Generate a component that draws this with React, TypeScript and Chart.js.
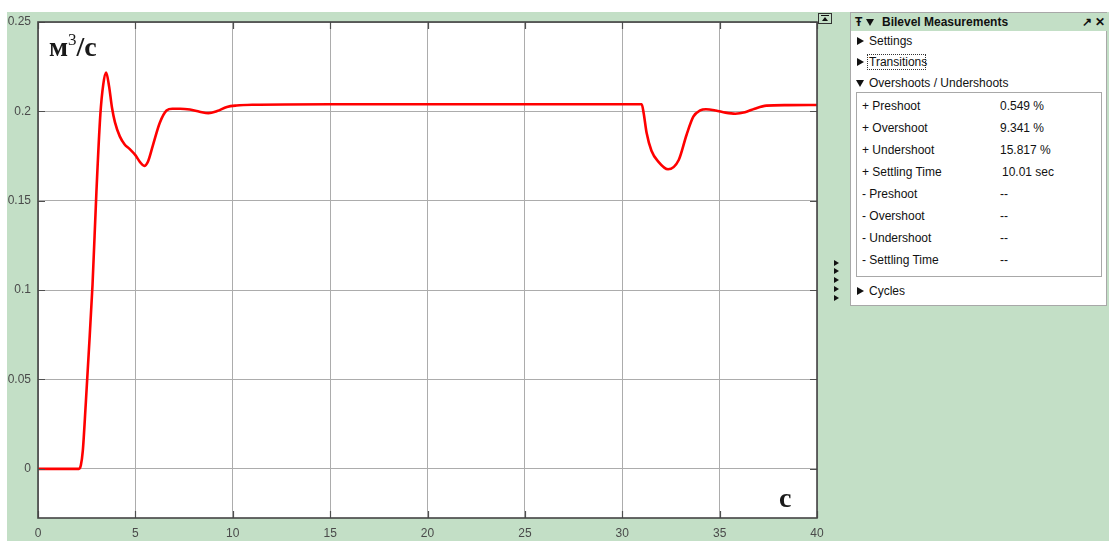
import React, { useEffect, useRef } from "react";
import { Chart, registerables } from "chart.js";

Chart.register(...registerables);

// ---- data ----
const timeValues = [
  0, 2.1, 2.2, 2.3, 2.45, 2.6, 2.8, 3.0, 3.2, 3.35,
  3.5, 3.65, 3.8, 3.95, 4.2, 4.45, 4.7, 5.0, 5.25, 5.45,
  5.65, 5.9, 6.25, 6.6, 6.9, 7.3, 7.8, 8.3, 8.75, 9.2,
  9.7, 10.2, 11, 15, 20, 25, 30, 31.0, 31.1, 31.25,
  31.5, 31.85, 32.35, 32.9, 33.3, 33.65, 34.0, 34.3, 34.8, 35.3,
  35.8, 36.3, 36.8, 37.4, 38.5, 40,
];
const flowValues = [
  0, 0, 0.002, 0.01, 0.036, 0.064, 0.103, 0.155, 0.198, 0.215,
  0.2217, 0.214, 0.202, 0.194, 0.186, 0.1815, 0.179, 0.1755, 0.1715, 0.1695,
  0.172, 0.181, 0.1935, 0.2005, 0.2015, 0.2015, 0.201, 0.1998, 0.199, 0.2002,
  0.2025, 0.2033, 0.2037, 0.204, 0.204, 0.204, 0.204, 0.204, 0.199, 0.188,
  0.178, 0.1719, 0.1676, 0.1728, 0.1868, 0.197, 0.2005, 0.2012, 0.2005, 0.1993,
  0.1987, 0.1995, 0.2015, 0.2032, 0.2035, 0.2036,
];
const yTickValues = [0, 0.05, 0.1, 0.15, 0.2, 0.25];
const yTickLabels = ["0", "0.05", "0.1", "0.15", "0.2", "0.25"];
const xTickValues = [0, 5, 10, 15, 20, 25, 30, 35, 40];

const measureLabels = [
  "+ Preshoot",
  "+ Overshoot",
  "+ Undershoot",
  "+ Settling Time",
  "- Preshoot",
  "- Overshoot",
  "- Undershoot",
  "- Settling Time",
];
const measureValues = ["0.549 %", "9.341 %", "15.817 %", "10.01 sec", "--", "--", "--", "--"];

const GREEN = "rgb(195,223,198)";
const SANS = '"Liberation Sans", Arial, sans-serif';
const SERIF = '"Liberation Serif", "Times New Roman", serif';

const framePlugin = {
  id: "frame",
  beforeDraw(chart: any) {
    const { ctx, chartArea: a } = chart;
    ctx.save();
    ctx.fillStyle = "#ffffff";
    ctx.fillRect(a.left, a.top, a.right - a.left, a.bottom - a.top);
    ctx.restore();
  },
  afterDatasetsDraw(chart: any) {
    const { ctx, chartArea: a, scales } = chart;
    ctx.save();
    ctx.strokeStyle = "#505050";
    ctx.lineWidth = 1.2;
    const tl = 7;
    ctx.beginPath();
    xTickValues.forEach((v) => {
      const x = Math.round(scales.x.getPixelForValue(v)) + 0.5;
      ctx.moveTo(x, a.bottom);
      ctx.lineTo(x, a.bottom - tl);
      ctx.moveTo(x, a.top);
      ctx.lineTo(x, a.top + tl);
    });
    yTickValues.forEach((v) => {
      const y = Math.round(scales.y.getPixelForValue(v)) + 0.5;
      ctx.moveTo(a.left, y);
      ctx.lineTo(a.left + tl, y);
      ctx.moveTo(a.right, y);
      ctx.lineTo(a.right - tl, y);
    });
    ctx.stroke();
    ctx.strokeStyle = "#444444";
    ctx.lineWidth = 1.6;
    ctx.strokeRect(a.left, a.top, a.right - a.left, a.bottom - a.top);
    ctx.restore();
  },
};

function ScopeChart() {
  const ref = useRef<HTMLCanvasElement | null>(null);
  useEffect(() => {
    if (!ref.current) return;
    const points = timeValues.map((t, i) => ({ x: t, y: flowValues[i] }));
    const chart = new Chart(ref.current, {
      type: "line",
      data: {
        datasets: [
          {
            data: points,
            borderColor: "#ff0000",
            borderWidth: 2.6,
            pointRadius: 0,
            cubicInterpolationMode: "monotone",
            fill: false,
          },
        ],
      },
      options: {
        animation: false,
        responsive: false,
        devicePixelRatio: 1,
        layout: { padding: { left: 0, top: 10, right: 23, bottom: 0 } },
        plugins: { legend: { display: false }, tooltip: { enabled: false } },
        scales: {
          x: {
            type: "linear",
            min: 0,
            max: 40,
            afterBuildTicks: (s: any) => {
              s.ticks = xTickValues.map((v) => ({ value: v }));
            },
            afterFit: (s: any) => {
              s.height = 23;
              s.paddingLeft = 0;
              s.paddingRight = 0;
            },
            grid: { color: "rgb(172,172,172)", lineWidth: 1, drawTicks: false },
            border: { display: false },
            ticks: {
              padding: 8,
              color: "#4a4a4a",
              font: { family: SANS, size: 12 },
              callback: (v: any) => String(v),
            },
          },
          y: {
            type: "linear",
            min: -0.0275,
            max: 0.25,
            afterBuildTicks: (s: any) => {
              s.ticks = yTickValues.map((v) => ({ value: v }));
            },
            afterFit: (s: any) => {
              s.width = 31;
              s.paddingTop = 0;
              s.paddingBottom = 0;
            },
            grid: { color: "rgb(172,172,172)", lineWidth: 1, drawTicks: false },
            border: { display: false },
            ticks: {
              padding: 7,
              color: "#4a4a4a",
              font: { family: SANS, size: 12 },
              callback: (v: any) => {
                const i = yTickValues.findIndex((t) => Math.abs(t - v) < 1e-9);
                return i >= 0 ? yTickLabels[i] : "";
              },
            },
          },
        },
      },
      plugins: [framePlugin],
    } as any);
    return () => chart.destroy();
  }, []);
  return (
    <canvas
      ref={ref}
      width={833}
      height={529}
      style={{ position: "absolute", left: 7, top: 12, width: 833, height: 529 }}
    />
  );
}

function Txt(props: { x: number; cy: number; children: any; bold?: boolean; size?: number; style?: any }) {
  const size = props.size ?? 12;
  return (
    <div
      style={{
        position: "absolute",
        left: props.x,
        top: props.cy - 7,
        height: 14,
        lineHeight: "14px",
        fontFamily: SANS,
        fontSize: size,
        fontWeight: props.bold ? "bold" : "normal",
        color: "#111",
        whiteSpace: "nowrap",
        ...(props.style || {}),
      }}
    >
      {props.children}
    </div>
  );
}

function Tri({ x, cy, down }: { x: number; cy: number; down?: boolean }) {
  if (down) {
    return (
      <div
        style={{
          position: "absolute",
          left: x,
          top: cy - 3,
          width: 0,
          height: 0,
          borderLeft: "4px solid transparent",
          borderRight: "4px solid transparent",
          borderTop: "7px solid #111",
        }}
      />
    );
  }
  return (
    <div
      style={{
        position: "absolute",
        left: x,
        top: cy - 4,
        width: 0,
        height: 0,
        borderTop: "4px solid transparent",
        borderBottom: "4px solid transparent",
        borderLeft: "7px solid #111",
      }}
    />
  );
}

function Panel() {
  const rowsY = [106, 128, 150, 172, 194, 216, 238, 260];
  return (
    <>
      <div
        style={{
          position: "absolute",
          left: 850,
          top: 12,
          width: 257,
          height: 294,
          background: "#fff",
          border: "1px solid #a8a8a8",
          boxSizing: "border-box",
        }}
      />
      <div
        style={{
          position: "absolute",
          left: 851,
          top: 13,
          width: 258,
          height: 18,
          background: GREEN,
        }}
      />
      <Txt x={855} cy={22} bold>Ŧ</Txt>
      <Tri x={866} cy={22} down />
      <Txt x={882} cy={22} bold>Bilevel Measurements</Txt>
      <Txt x={1082} cy={22} bold>↗</Txt>
      <Txt x={1095} cy={22} bold>✕</Txt>

      <Tri x={857} cy={41} />
      <Txt x={869} cy={41}>Settings</Txt>
      <Tri x={857} cy={62} />
      <div
        style={{
          position: "absolute",
          left: 867,
          top: 54,
          width: 59,
          height: 16,
          border: "1px dotted #333",
          boxSizing: "border-box",
        }}
      />
      <Txt x={869} cy={62}>Transitions</Txt>
      <Tri x={856} cy={83} down />
      <Txt x={869} cy={83}>Overshoots / Undershoots</Txt>

      <div
        style={{
          position: "absolute",
          left: 856,
          top: 92,
          width: 246,
          height: 185,
          border: "1px solid #a8a8a8",
          boxSizing: "border-box",
        }}
      />
      {measureLabels.map((l, i) => (
        <Txt key={"l" + i} x={862} cy={rowsY[i]}>{l}</Txt>
      ))}
      {measureValues.map((v, i) => (
        <Txt key={"v" + i} x={i === 3 ? 1002 : 1000} cy={rowsY[i]}>{v}</Txt>
      ))}
      <Tri x={857} cy={291} />
      <Txt x={869} cy={291}>Cycles</Txt>
    </>
  );
}

export default function App() {
  useEffect(() => {
    document.body.style.margin = "0";
  }, []);
  const arrowsY = [263, 271, 280, 289, 298];
  return (
    <div style={{ position: "relative", width: 1109, height: 541, overflow: "hidden", background: "#fff" }}>
      <div style={{ position: "absolute", left: 7, top: 12, width: 1102, height: 529, background: GREEN }} />
      <ScopeChart />
      {/* unit labels */}
      <div
        style={{
          position: "absolute",
          left: 49,
          top: 33,
          fontFamily: SERIF,
          fontSize: 28,
          fontWeight: "bold",
          lineHeight: "28px",
          color: "#1a1a1a",
          whiteSpace: "nowrap",
        }}
      >
        м<sup style={{ fontSize: 17, fontWeight: "normal", verticalAlign: 11, lineHeight: "0" }}>3</sup>/с
      </div>
      <div
        style={{
          position: "absolute",
          left: 779,
          top: 484,
          fontFamily: SERIF,
          fontSize: 28,
          fontWeight: "bold",
          lineHeight: "28px",
          color: "#1a1a1a",
        }}
      >
        с
      </div>
      {/* small button top right of axes */}
      <div
        style={{
          position: "absolute",
          left: 818,
          top: 13,
          width: 14,
          height: 11,
          border: "1px solid #333",
          boxSizing: "border-box",
          background: GREEN,
        }}
      >
        <div style={{ position: "absolute", left: 2, top: 1, width: 8, height: 1, background: "#111" }} />
        <div
          style={{
            position: "absolute",
            left: 3,
            top: 3,
            width: 0,
            height: 0,
            borderLeft: "3px solid transparent",
            borderRight: "3px solid transparent",
            borderBottom: "4px solid #111",
          }}
        />
      </div>
      {arrowsY.map((y, i) => (
        <div
          key={i}
          style={{
            position: "absolute",
            left: 834,
            top: y - 3,
            width: 0,
            height: 0,
            borderTop: "3px solid transparent",
            borderBottom: "3px solid transparent",
            borderLeft: "5px solid #111",
          }}
        />
      ))}
      <Panel />
    </div>
  );
}
